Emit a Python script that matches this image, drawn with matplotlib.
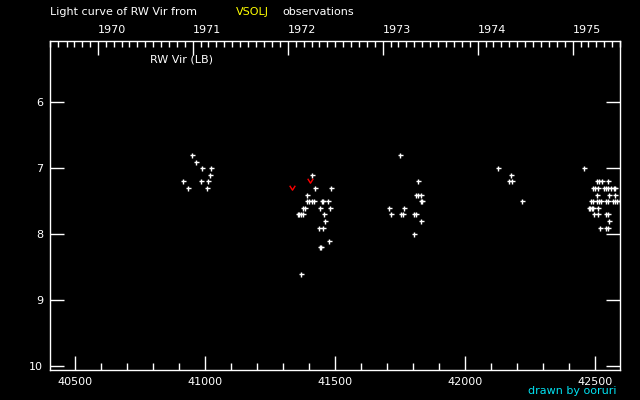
import datetime
import matplotlib
matplotlib.use('Agg')
import matplotlib.pyplot as plt
from matplotlib.path import Path
from matplotlib.ticker import MultipleLocator

# observations (JD - 2400000, visual magnitude)
jd = [40915, 40934, 40949, 40965, 40984, 40988, 41007, 41011, 41018, 41022,
      41411, 41422, 41484, 41392, 41391, 41399, 41410, 41419, 41447, 41454,
      41473, 41376, 41384, 41442, 41480, 41356, 41360, 41367, 41376, 41457,
      41461, 41438, 41452, 41476, 41442, 41446, 41368,
      41749, 41819, 41811, 41819, 41828, 41830, 41834, 41707, 41765, 41715,
      41753, 41761, 41803, 41811, 41830, 41803,
      42126, 42176, 42169, 42180, 42219,
      42457, 42507, 42515, 42526, 42549,
      42492, 42500, 42511, 42534, 42542, 42549, 42561, 42572, 42576,
      42507, 42553, 42576,
      42484, 42492, 42507, 42515, 42522, 42542, 42549, 42569, 42576, 42584, 42595,
      42476, 42481, 42486, 42492, 42511,
      42496, 42511, 42542, 42549,
      42553,
      42518, 42542, 42549]
mag = [7.2, 7.3, 6.8, 6.9, 7.2, 7.0, 7.3, 7.2, 7.1, 7.0,
       7.1, 7.3, 7.3, 7.4, 7.5, 7.5, 7.5, 7.5, 7.5, 7.5,
       7.5, 7.6, 7.6, 7.6, 7.6, 7.7, 7.7, 7.7, 7.7, 7.7,
       7.8, 7.9, 7.9, 8.1, 8.2, 8.2, 8.6,
       6.8, 7.2, 7.4, 7.4, 7.4, 7.5, 7.5, 7.6, 7.6, 7.7,
       7.7, 7.7, 7.7, 7.7, 7.8, 8.0,
       7.0, 7.1, 7.2, 7.2, 7.5,
       7.0, 7.2, 7.2, 7.2, 7.2,
       7.3, 7.3, 7.3, 7.3, 7.3, 7.3, 7.3, 7.3, 7.3,
       7.4, 7.4, 7.4,
       7.5, 7.5, 7.5, 7.5, 7.5, 7.5, 7.5, 7.5, 7.5, 7.5, 7.5,
       7.6, 7.6, 7.6, 7.6, 7.6,
       7.7, 7.7, 7.7, 7.7,
       7.8,
       7.9, 7.9, 7.9]

# red marks
jd_red = [41334, 41403]
mag_red = [7.3, 7.2]

years = [1970, 1971, 1972, 1973, 1974, 1975]

def to_jd(d):
    # JD - 2400000 of a calendar date at 0h UT
    return (d - datetime.date(1970, 1, 1)).days + 40587.5

fig = plt.figure(figsize=(6.4, 4.0), dpi=100, facecolor='black')
ax = fig.add_axes([50/640, 30/400, 570/640, 329/400])
ax.set_facecolor('black')

ax.plot(jd, mag, '+', color='white', ms=3.6, mew=1.0, ls='none')
vmark = Path([(-1, 1), (0, -0.6), (1, 1)], [Path.MOVETO, Path.LINETO, Path.LINETO])
ax.plot(jd_red, mag_red, ls='none', marker=vmark, ms=4, mew=1.0,
        mec='red', mfc='none')

xlim = (40402, 42595)
ax.set_xlim(xlim)
ax.set_ylim(10.06, 5.07)

for s in ax.spines.values():
    s.set_color('white')
    s.set_linewidth(1.0)

ax.xaxis.set_major_locator(MultipleLocator(500))
ax.xaxis.set_minor_locator(MultipleLocator(100))
ax.set_yticks([6, 7, 8, 9, 10])
ax.tick_params(axis='x', which='major', direction='in', length=10, width=1,
               colors='white', labelsize=8, pad=5, top=False)
ax.tick_params(axis='x', which='minor', direction='in', length=5, width=1,
               colors='white', top=False)
ax.tick_params(axis='y', which='major', direction='in', length=10, width=1,
               colors='white', labelsize=8, pad=5, right=True)

# top axis with calendar years
ax2 = ax.twiny()
year_pos = [to_jd(datetime.date(y, 1, 1)) for y in years]
month_pos = [to_jd(datetime.date(y, m, 1)) for y in range(1969, 1976) for m in range(1, 13)]
month_pos = [p for p in month_pos if xlim[0] <= p <= xlim[1]]
ax2.set_xticks(year_pos)
ax2.set_xticklabels([str(y) for y in years])
ax2.set_xticks(month_pos, minor=True)
ax2.set_xlim(xlim)
ax2.tick_params(axis='x', which='major', direction='in', length=10, width=1,
                colors='white', labelsize=8, pad=4)
ax2.tick_params(axis='x', which='minor', direction='in', length=4, width=1,
                colors='white')
for lbl in ax2.get_xticklabels():
    lbl.set_horizontalalignment('left')
for s in ax2.spines.values():
    s.set_visible(False)

fig.text(150/640, 1 - 60/400, 'RW Vir (LB)', color='white',
         fontsize=8, va='center', ha='left')

fig.text(50/640, 1 - 12/400, 'Light curve of RW Vir from', color='white',
         fontsize=8, va='center', ha='left')
fig.text(236/640, 1 - 12/400, 'VSOLJ', color='yellow', fontsize=8, va='center', ha='left')
fig.text(282/640, 1 - 12/400, 'observations', color='white', fontsize=8,
         va='center', ha='left')
fig.text(617/640, 1 - 391/400, 'drawn by ooruri', color='#00e0f0', fontsize=8,
         va='center', ha='right')

fig.savefig('out.png', dpi=100, facecolor='black')
